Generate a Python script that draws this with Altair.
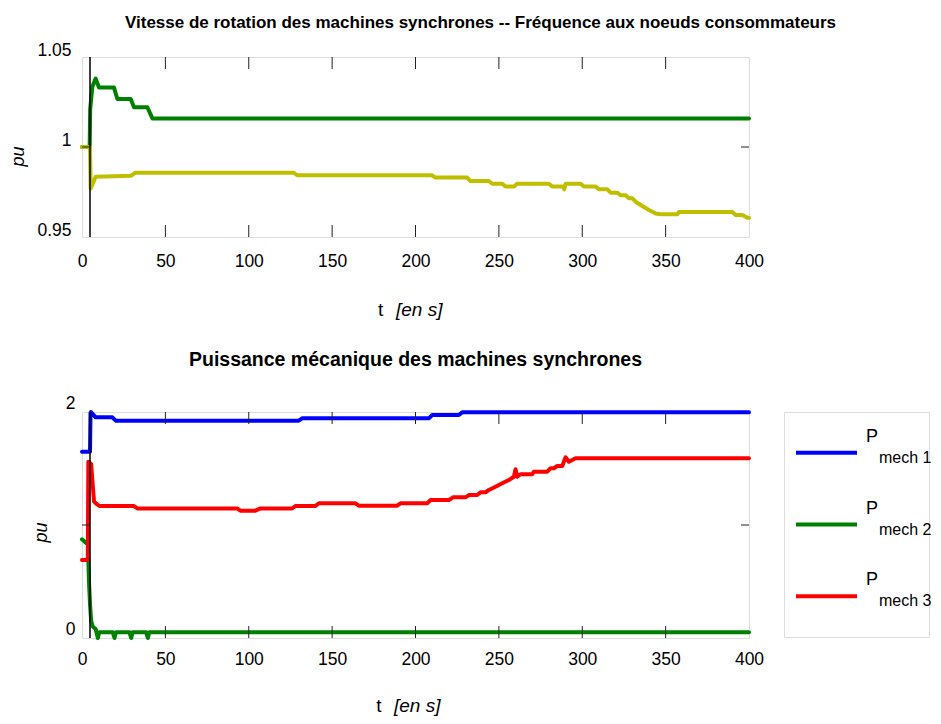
import altair as alt
import pandas as pd

FONT = "Liberation Sans"

# ---------------- data ----------------
# top panel: rotor speed of machine 2 (green) and load-bus frequency (yellow)
t_speed = [0, 4.6, 4.9, 6.2, 8.2, 10.2, 19.2, 21.2, 29.2, 31.2, 39.2, 42.2, 400]
speed = [1.0, 1.0, 1.021, 1.0335, 1.038, 1.033, 1.033, 1.0267, 1.0267, 1.0221, 1.0221, 1.0159, 1.0159]

t_freq = [0, 4.8, 5.2, 8.2, 29.2, 32, 127, 129, 209.7, 212, 231, 233, 244, 246, 252, 254, 259,
          261, 280, 282, 288.5, 289.2, 290, 299, 301, 308, 310, 315, 317, 321, 323, 326, 328,
          330, 332, 336, 340, 344, 347, 357, 358, 390, 392, 396, 399, 400]
freq = [1.0, 1.0, 0.977, 0.9835, 0.984, 0.9857, 0.9857, 0.9843, 0.9843, 0.983, 0.983, 0.9811,
        0.9811, 0.9796, 0.9796, 0.978, 0.978, 0.9796, 0.9796, 0.978, 0.978, 0.9765, 0.9796,
        0.9796, 0.978, 0.978, 0.9765, 0.9765, 0.9746, 0.9746, 0.9732, 0.9732, 0.9715, 0.9715,
        0.9696, 0.9672, 0.965, 0.9631, 0.9626, 0.9626, 0.9639, 0.9639, 0.9622, 0.9622, 0.9607,
        0.9607]

# bottom panel: mechanical power of the three machines
t_p1 = [0, 4.8, 5.1, 5.4, 8.2, 18.2, 20.2, 130, 132, 208, 210, 226, 228, 400]
p1 = [1.649, 1.649, 1.99, 2.0, 1.953, 1.953, 1.923, 1.923, 1.944, 1.944, 1.973, 1.973, 1.997, 1.997]

t_p2 = [0, 2.5, 3.5, 4.2, 4.8, 5.5, 6.5, 8.2, 9.5, 10.3, 18.5, 19.5, 20.3, 28.5, 29.5, 30.3,
        38.5, 39.5, 40.3, 400]
p2 = [0.873, 0.84, 0.84, 0.5, 0.3, 0.15, 0.1, 0.08, 0.0, 0.05, 0.05, 0.0, 0.05, 0.05, 0.0, 0.05,
      0.05, 0.0, 0.05, 0.05]

t_p3 = [0, 3.5, 3.8, 5.5, 6.2, 7.2, 8.5, 10.5, 31.2, 33.2, 93, 95, 104, 107, 126, 128, 140, 142,
        164, 166, 189, 191, 207, 209, 220, 222.5, 230, 232, 237, 239, 242, 244, 248, 252, 256,
        259, 260, 261, 263, 270, 271, 279, 281, 283, 285, 288, 290, 292, 296, 400]
p3 = [0.69, 0.69, 1.56, 1.54, 1.4, 1.21, 1.19, 1.168, 1.168, 1.147, 1.147, 1.127, 1.127, 1.147,
      1.147, 1.168, 1.168, 1.192, 1.192, 1.171, 1.171, 1.192, 1.192, 1.221, 1.221, 1.245, 1.245,
      1.265, 1.265, 1.289, 1.289, 1.31, 1.339, 1.369, 1.398, 1.427, 1.493, 1.427, 1.449, 1.449,
      1.472, 1.472, 1.502, 1.502, 1.522, 1.522, 1.599, 1.56, 1.59, 1.59]

event_t = [4.8]
x_ticks = [0, 50, 100, 150, 200, 250, 300, 350, 400]
x_inner_ticks = [50, 100, 150, 200, 250, 300, 350]
y_ticks_top = [0.95, 1.0, 1.05]
y_ticks_bot = [0, 1, 2]

legend_names = ["mech 1", "mech 2", "mech 3"]
legend_colors = ["#0000ff", "#008000", "#ff0000"]

title_top = "Vitesse de rotation des machines synchrones -- Fréquence aux noeuds consommateurs"
title_bot = "Puissance mécanique des machines synchrones"

# ---------------- styling ----------------
W, H1, H2 = 667, 180, 226
GREEN, YELLOW, BLUE, RED = "#008000", "#bfbf00", "#0000ff", "#ff0000"
LW = 4
LAB = 17.5

xs = alt.Scale(domain=[0, 400], nice=False, zero=False)


def x_axis(pad):
    return alt.Axis(values=x_ticks, labelFontSize=LAB, labelPadding=pad, ticks=False, tickSize=0,
                    domain=False, grid=False, title=None, labelFlush=False, labelColor="black",
                    labelFont=FONT)


def y_axis(values, fmt, pad, loff, tpad, ty):
    return alt.Axis(values=values, format=fmt, labelFontSize=LAB, labelPadding=pad, ticks=False,
                    tickSize=0, domain=False, grid=False, title="pu", titleFontStyle="italic",
                    titleFontWeight="normal", titleFontSize=18, titlePadding=tpad, titleFont=FONT,
                    titleColor="black", labelColor="black", labelFont=FONT, labelFlush=False,
                    labelOffset=loff, titleY=ty)


def panel(series, yscale, xax, yax, H, ytick_vals, xt_pos, title):
    X = alt.X("t:Q", scale=xs, axis=xax)
    Y = alt.Y("v:Q", scale=yscale, axis=yax)
    layers = []
    for ts, vs, col in series:
        df = pd.DataFrame({"t": ts, "v": vs})
        layers.append(alt.Chart(df).mark_line(color=col, strokeWidth=LW, strokeJoin="round",
                                              strokeCap="round").encode(x=X, y=Y))
    ev = pd.DataFrame({"t": event_t})
    layers.append(alt.Chart(ev).mark_rule(color="black", strokeWidth=1.5).encode(
        x=X, y=alt.value(0), y2=alt.value(H)))
    xt = pd.DataFrame({"t": x_inner_ticks})
    layers.append(alt.Chart(xt).mark_rule(color="#222", strokeWidth=1).encode(
        x=X, y=alt.value(H), y2=alt.value(H - 12)))
    layers.append(alt.Chart(xt).mark_rule(color="#222", strokeWidth=1).encode(
        x=X, y=alt.value(0), y2=alt.value(12)))
    yt = pd.DataFrame({"v": ytick_vals})
    layers.append(alt.Chart(yt).mark_rule(color="#222", strokeWidth=1).encode(
        y=Y, x=alt.value(0), x2=alt.value(8)))
    layers.append(alt.Chart(yt).mark_rule(color="#222", strokeWidth=1).encode(
        y=Y, x=alt.value(W - 8), x2=alt.value(W)))
    one = pd.DataFrame({"a": [0]})
    layers.append(alt.Chart(one).mark_text(text="t", fontSize=19, font=FONT, align="center",
                                           baseline="middle", color="black").encode(
        x=alt.value(xt_pos[0]), y=alt.value(xt_pos[2])))
    layers.append(alt.Chart(one).mark_text(text="[en s]", fontSize=19, font=FONT, align="left",
                                           baseline="middle", fontStyle="italic",
                                           color="black").encode(
        x=alt.value(xt_pos[1]), y=alt.value(xt_pos[2])))
    return alt.layer(*layers).properties(width=W, height=H, title=title)


top = panel(
    [(t_speed, speed, GREEN), (t_freq, freq, YELLOW)],
    alt.Scale(domain=[0.95, 1.05], nice=False, zero=False),
    x_axis(15), y_axis(y_ticks_top, "~g", 11, -7, 9, 99), H1, [1.0], (298.7, 314, 253),
    alt.TitleParams(title_top, fontSize=17, fontWeight="bold", font=FONT, color="black",
                    anchor="middle", frame="group", dx=65, offset=9),
)

bottom = panel(
    [(t_p2, p2, GREEN), (t_p3, p3, RED), (t_p1, p1, BLUE)],
    alt.Scale(domain=[0, 2], nice=False, zero=False),
    x_axis(12),
    y_axis(y_ticks_bot, "d", 7, {"condition": {"test": "datum.value == 1", "value": 0}, "value": -9},
           15, 120),
    H2, [1], (297, 312, 294),
    alt.TitleParams(title_bot, fontSize=19.5, fontWeight="bold", font=FONT, color="black",
                    anchor="middle", frame="group", offset=24),
)

# ---------------- custom legend ----------------
leg_df = pd.DataFrame({"k": [0, 1, 2], "lab": legend_names, "col": legend_colors})
LY = alt.Y("k:O", scale=alt.Scale(type="point", padding=0.57), axis=None)
sym = alt.Chart(leg_df).mark_rule(strokeWidth=LW).encode(
    y=LY, x=alt.value(12), x2=alt.value(73), color=alt.Color("col:N", scale=None, legend=None))
pch = alt.Chart(leg_df).mark_text(text="P", fontSize=18, font=FONT, align="left",
                                  baseline="middle", dy=-16, color="black").encode(
    y=LY, x=alt.value(82))
sub = alt.Chart(leg_df).mark_text(fontSize=16, font=FONT, align="left", baseline="middle",
                                  dy=5, color="black").encode(
    y=LY, x=alt.value(95), text="lab:N")
legend = alt.layer(sym, pch, sub).properties(width=145, height=225)

row2 = alt.hconcat(bottom, legend, spacing=35, bounds="flush")
chart = alt.vconcat(top, row2, spacing=175, bounds="flush").properties(
    padding={"left": 1, "top": 5, "right": 0, "bottom": 0}
).configure_view(stroke="black", strokeWidth=1.3).configure(font=FONT)

chart.save("out.html", embed_options={"renderer": "svg", "actions": False})
